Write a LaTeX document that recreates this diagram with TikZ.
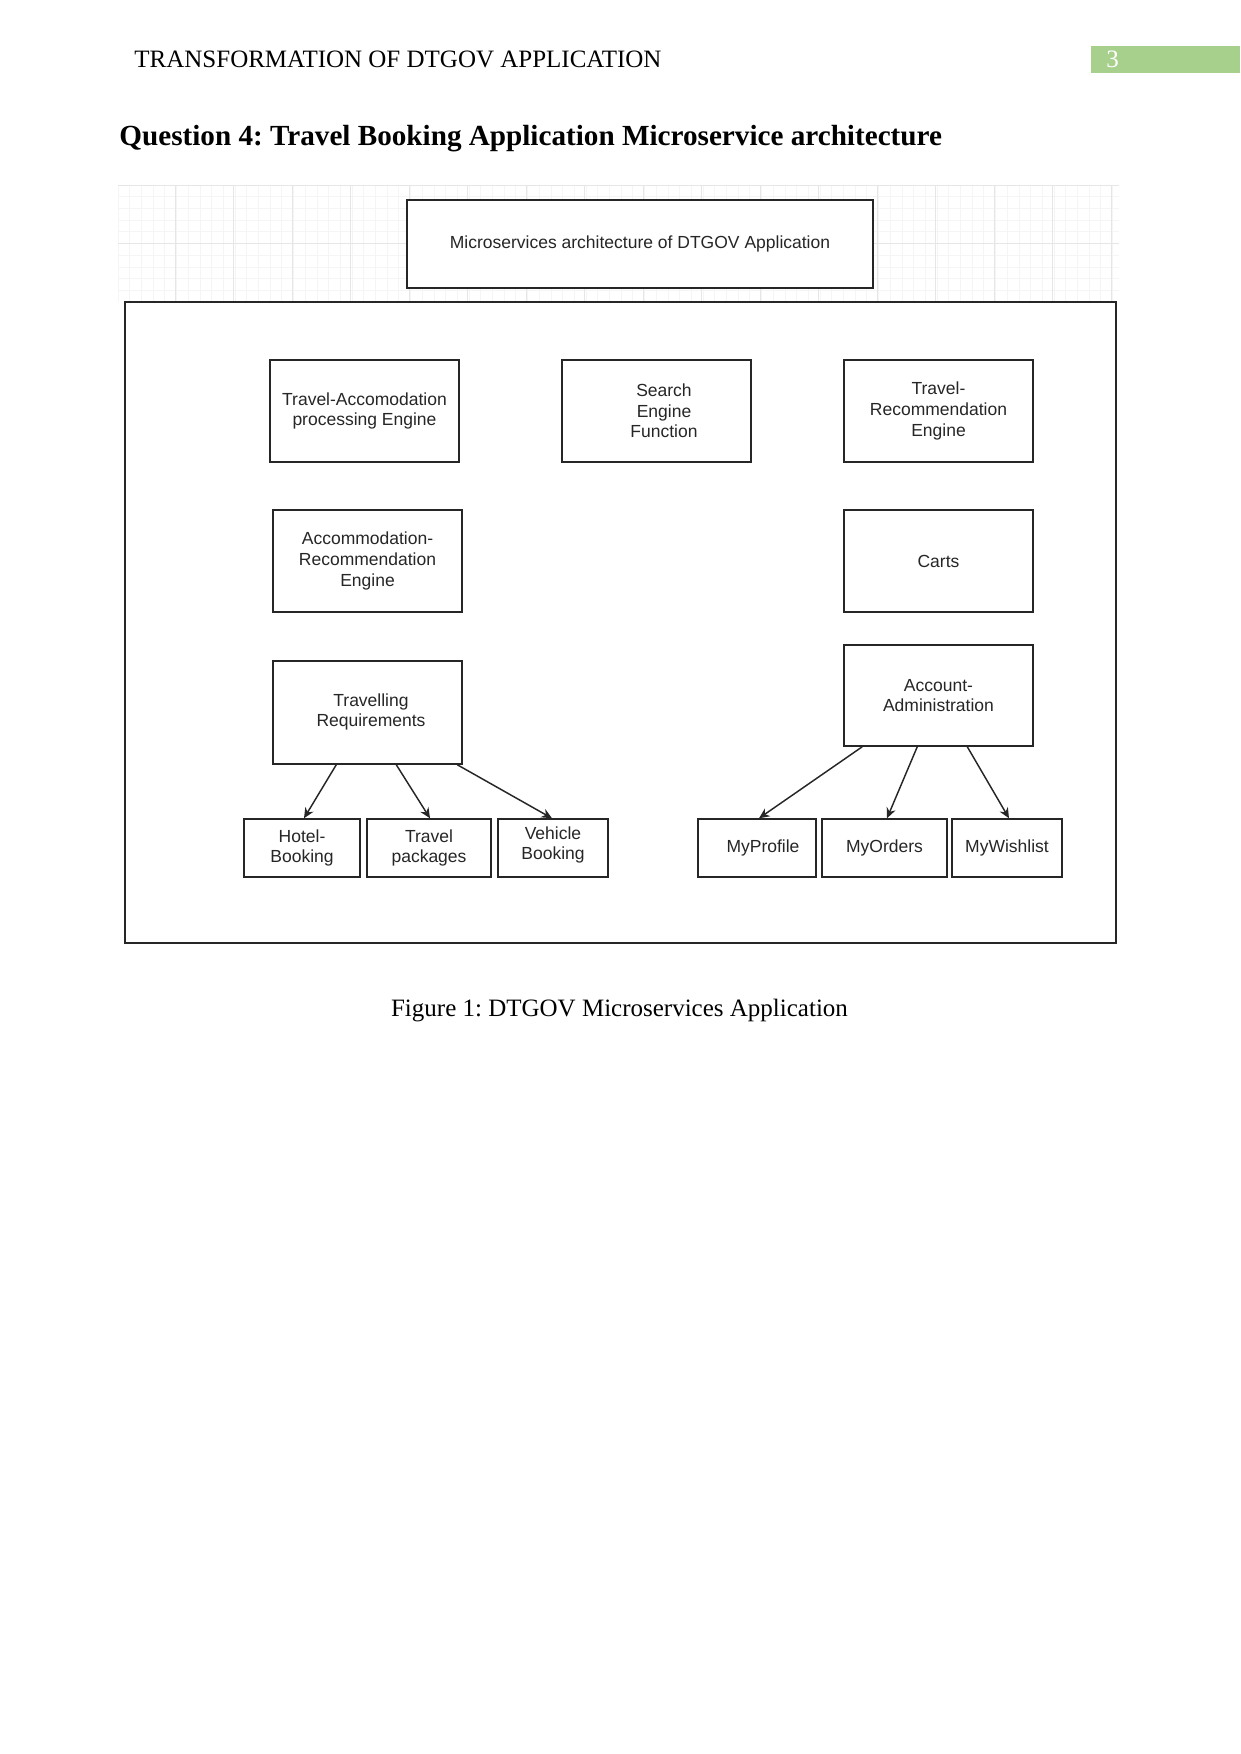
\documentclass[tikz,border=0pt]{standalone}
\usepackage{fontspec}
\setmainfont{Liberation Serif}
\newfontfamily\diagfont{Liberation Sans}
\usetikzlibrary{arrows.meta,calc}
\definecolor{hdrgreen}{HTML}{A8D08D}
\definecolor{gridminor}{HTML}{F5F5F5}
\definecolor{gridmajor}{HTML}{E6E6E6}
\frenchspacing
\begin{document}
\begin{tikzpicture}[x=0.48pt,y=-0.48pt,
  box/.style={draw=black!85,line width=0.7pt,fill=white,align=center,inner sep=0pt,
    font=\diagfont\fontsize{8.4}{9.9}\selectfont,text=black!85},
  lbl/.style={align=center,inner sep=0pt,font=\diagfont\fontsize{8.4}{9.9}\selectfont,text=black!85},
  arr/.style={draw=black!85,line width=0.7pt,-{Stealth[length=5pt,width=4.5pt]}}]
\useasboundingbox (0,0) rectangle (1241,1754);
% header
\node[anchor=base west,font=\fontsize{12}{14}\selectfont,inner sep=0pt] (hdr) at (134,67) {TRANSFORMATION OF DTGOV APPLICATION};
\node[fill=hdrgreen,minimum width=149*0.48pt,minimum height=27*0.48pt,inner sep=0pt,anchor=north west] (pg) at (1091,46) {};
\node[anchor=base west,font=\fontsize{12}{14}\selectfont,text=white,inner sep=0pt] (pgnum) at (1106,67) {3};
% title
\node[anchor=base west,font=\bfseries\fontsize{14}{16}\selectfont,inner sep=0pt] (title) at (119,145) {Question 4: Travel Booking Application Microservice architecture};
% faint grid
\foreach \i in {0,...,85} \draw[gridminor,line width=0.3pt] ({118+\i*11.7},185) -- ({118+\i*11.7},302);
\foreach \j in {1,...,9} \draw[gridminor,line width=0.3pt] (118,{185+\j*11.7}) -- (1119,{185+\j*11.7});
\foreach \i in {1,...,17} \draw[gridmajor,line width=0.4pt] ({116.5+\i*58.5},185) -- ({116.5+\i*58.5},302);
\foreach \yy in {185,243.5} \draw[gridmajor,line width=0.4pt] (118,\yy) -- (1119,\yy);
% top box
\node[box,minimum width=466*0.48pt,minimum height=88*0.48pt] (top) at (640,244) {Microservices architecture of DTGOV Application};
% frame
\node[draw=black!85,fill=white,line width=0.8pt,minimum width=991*0.48pt,minimum height=641*0.48pt,inner sep=0pt] (frame) at (620.5,622.5) {};
% service boxes
\node[box,minimum width=189*0.48pt,minimum height=102*0.48pt] (ta) at (364.5,411) {Travel-Accomodation\\processing Engine};
\node[box,minimum width=189*0.48pt,minimum height=102*0.48pt] (se) at (656.5,411) {};
\node[lbl] (selbl) at (664,411) {Search\\Engine\\Function};
\node[box,minimum width=189*0.48pt,minimum height=102*0.48pt] (tr) at (938.5,411) {Travel-\\Recommendation\\Engine};
\node[box,minimum width=189*0.48pt,minimum height=102*0.48pt] (ar) at (367.5,561) {Accommodation-\\Recommendation\\Engine};
\node[box,minimum width=189*0.48pt,minimum height=102*0.48pt] (carts) at (938.5,561) {Carts};
\node[box,minimum width=189*0.48pt,minimum height=103*0.48pt] (treq) at (367.5,712.5) {};
\node[lbl] (treqlbl) at (371,712) {Travelling\\Requirements};
\node[box,minimum width=189*0.48pt,minimum height=101*0.48pt] (acc) at (938.5,695.5) {Account-\\Administration};
% leaves
\node[box,minimum width=116*0.48pt,minimum height=58*0.48pt] (hotel) at (302,848) {Hotel-\\Booking};
\node[box,minimum width=124*0.48pt,minimum height=58*0.48pt] (tpack) at (429,848) {Travel\\packages};
\node[box,minimum width=110*0.48pt,minimum height=58*0.48pt] (veh) at (553,848) {};
\node[lbl] (vehlbl) at (553,845) {Vehicle\\Booking};
\node[box,minimum width=118*0.48pt,minimum height=58*0.48pt] (myp) at (757,848) {};
\node[lbl] (myplbl) at (763,848) {MyProfile};
\node[box,minimum width=125*0.48pt,minimum height=58*0.48pt] (myo) at (884.5,848) {MyOrders};
\node[box,minimum width=110*0.48pt,minimum height=58*0.48pt] (myw) at (1007,848) {MyWishlist};
% arrows
\draw[arr] ($(treq.south west)+(64,0)$) -- ($(hotel.north)+(2,0)$);
\draw[arr] ($(treq.south west)+(124,0)$) -- ($(tpack.north)+(1,0)$);
\draw[arr] ($(treq.south west)+(185,0)$) -- ($(veh.north)+(-1,0)$);
\draw[arr] ($(acc.south west)+(19,0)$) -- ($(myp.north)+(2,0)$);
\draw[arr] ($(acc.south west)+(74,0)$) -- ($(myo.north)+(2.5,0)$);
\draw[arr] ($(acc.south west)+(124,0)$) -- ($(myw.north)+(2,0)$);
% caption
\node[font=\fontsize{12}{14}\selectfont,inner sep=0pt,anchor=base] (cap) at (619.5,1016) {Figure 1: DTGOV Microservices Application};
\end{tikzpicture}
\end{document}
